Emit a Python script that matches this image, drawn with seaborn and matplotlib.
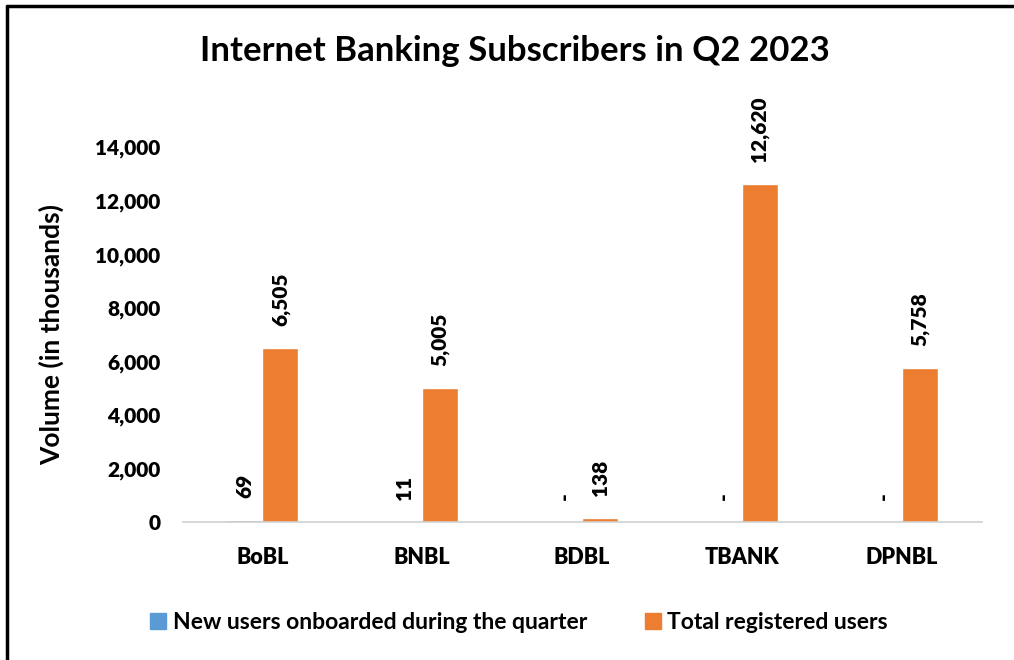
import pandas as pd
import matplotlib
matplotlib.use("Agg")
import matplotlib.pyplot as plt
import seaborn as sns
from matplotlib.lines import Line2D

# ---- data ----
banks = ["BoBL", "BNBL", "BDBL", "TBANK", "DPNBL"]
new_users = [69, 11, 0, 0, 0]
total_users = [6505, 5005, 138, 12620, 5758]
series_names = ["New users onboarded during the quarter", "Total registered users"]
y_ticks = [0, 2000, 4000, 6000, 8000, 10000, 12000, 14000]

df = pd.DataFrame({
    "bank": banks * 2,
    "series": [series_names[0]] * len(banks) + [series_names[1]] * len(banks),
    "value": new_users + total_users,
})

colors = ["#5B9BD5", "#ED7D31"]

sns.set_style("white")
plt.rcParams["font.family"] = ["Lato", "DejaVu Sans"]
plt.rcParams["font.weight"] = "bold"
for key in ["text.color", "axes.labelcolor", "xtick.color", "ytick.color"]:
    plt.rcParams[key] = "black"

fig = plt.figure(figsize=(10.14, 6.6), dpi=100)
ax = fig.add_axes([0.180, 0.209, 0.788, 0.568])

sns.barplot(data=df, x="bank", y="value", hue="series", hue_order=series_names,
            palette=colors, width=0.45, ax=ax, legend=False, saturation=1)

ax.set_ylim(0, 14000)
ax.set_yticks(y_ticks)
ax.set_yticklabels([f"{v:,}" for v in y_ticks], fontsize=15, fontweight="heavy")
ax.tick_params(axis="x", labelsize=15.5, pad=18)
ax.tick_params(axis="y", pad=16)
for lab in ax.get_xticklabels():
    lab.set_fontweight("heavy")
ax.tick_params(length=0)
ax.set_xlabel("")
ax.set_ylabel("Volume (in thousands)", fontsize=19, fontweight="bold", labelpad=22)

for side in ["top", "right", "left"]:
    ax.spines[side].set_visible(False)
ax.spines["bottom"].set_color("#D0D0D0")
ax.spines["bottom"].set_linewidth(1.2)

# value labels (rotated), zeros shown as "-"
for cont, vals in zip(ax.containers, [new_users, total_users]):
    labels = [f"{v:,}" if v != 0 else "-" for v in vals]
    ax.bar_label(cont, labels=labels, rotation=90, padding=16,
                 fontsize=15, fontweight="heavy", clip_on=False)

fig.text(0.508, 0.922, "Internet Banking Subscribers in Q2 2023",
         ha="center", va="center", fontsize=25, fontweight="bold")

handles = [Line2D([], [], marker="s", linestyle="", markersize=11,
                  markerfacecolor=c, markeredgecolor=c) for c in colors]
fig.legend(handles, series_names, loc="center", bbox_to_anchor=(0.509, 0.057),
           ncol=2, frameon=False, handletextpad=0.05, handlelength=1.2,
           columnspacing=2.25, prop={"weight": "bold", "size": 16.5})

# border around the chart (top and left edges visible in the crop)
fig.add_artist(Line2D([0.0065, 1.0], [0.9915, 0.9915], color="black", lw=2.5,
                      transform=fig.transFigure))
fig.add_artist(Line2D([0.0065, 0.0065], [0.0, 0.9915], color="black", lw=2.5,
                      transform=fig.transFigure))

fig.savefig("out.png", dpi=100, facecolor="white")
